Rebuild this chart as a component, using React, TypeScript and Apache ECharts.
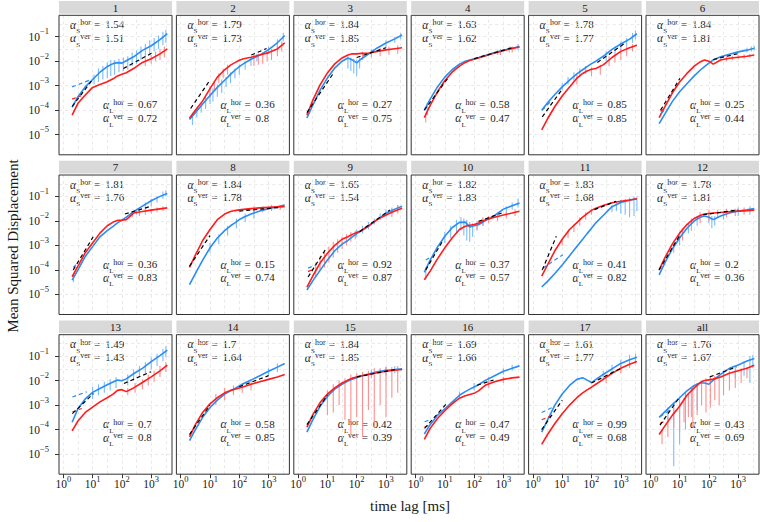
import { useEffect, useRef } from 'react';
import * as echarts from 'echarts';

const FONT = '"Liberation Serif", "Times New Roman", serif';

const PANEL_NAMES = ['1', '2', '3', '4', '5', '6', '7', '8', '9', '10', '11', '12', '13', '14', '15', '16', '17', 'all'];

// time lags (ms) shared by all smoothed curves
const LAG_MS = [2, 3.16, 5.62, 10, 17.8, 31.6, 50.1, 70.8, 100, 141, 251, 501, 1000, 1995, 3548];

// log10 of MSD, blue (light-blue noisy + blue mean) curve per panel
const BLUE_LOG10 = [
  [-3.88, -3.45, -3.05, -2.75, -2.45, -2.22, -2.1, -2.06, -2.08, -1.98, -1.82, -1.56, -1.37, -1.12, -0.88],
  [-4.38, -4.1, -3.75, -3.4, -3.07, -2.78, -2.54, -2.37, -2.22, -2.1, -1.92, -1.75, -1.53, -1.25, -0.95],
  [-4.32, -3.8, -3.18, -2.69, -2.28, -2.0, -1.87, -1.95, -2.07, -1.91, -1.71, -1.46, -1.26, -1.09, -0.93],
  [-4.0, -3.55, -3.05, -2.65, -2.35, -2.12, -2.0, -1.95, -1.9, -1.85, -1.76, -1.65, -1.55, -1.47, -1.4],
  [-4.0, -3.7, -3.36, -3.05, -2.77, -2.52, -2.35, -2.22, -2.1, -2.0, -1.8, -1.52, -1.3, -1.1, -0.88],
  [-4.55, -4.15, -3.65, -3.25, -2.92, -2.6, -2.37, -2.22, -2.08, -1.95, -1.82, -1.72, -1.62, -1.55, -1.47],
  [-4.42, -4.0, -3.45, -3.05, -2.65, -2.4, -2.22, -2.08, -1.98, -1.85, -1.62, -1.4, -1.18, -1.0, -0.88],
  [-4.6, -4.15, -3.6, -3.1, -2.7, -2.4, -2.2, -2.08, -1.95, -1.85, -1.72, -1.6, -1.5, -1.42, -1.35],
  [-4.82, -4.45, -4.02, -3.6, -3.22, -2.95, -2.8, -2.65, -2.52, -2.42, -2.22, -1.95, -1.69, -1.52, -1.4],
  [-4.1, -3.6, -3.07, -2.63, -2.28, -2.06, -2.05, -2.25, -2.2, -2.16, -1.98, -1.78, -1.52, -1.38, -1.27],
  [-4.7, -4.47, -4.15, -3.8, -3.42, -3.05, -2.75, -2.52, -2.3, -2.08, -1.78, -1.42, -1.25, -1.16, -1.1],
  [-4.2, -3.7, -3.15, -2.7, -2.3, -2.0, -1.85, -1.8, -1.85, -1.95, -1.8, -1.68, -1.6, -1.55, -1.5],
  [-3.7, -3.15, -2.75, -2.48, -2.32, -2.17, -2.06, -1.98, -2.01, -1.93, -1.72, -1.5, -1.23, -0.98, -0.76],
  [-4.45, -4.0, -3.5, -3.1, -2.8, -2.55, -2.42, -2.32, -2.22, -2.12, -1.98, -1.8, -1.62, -1.45, -1.3],
  [-4.1, -3.6, -3.05, -2.65, -2.35, -2.15, -2.02, -1.95, -1.88, -1.82, -1.73, -1.64, -1.58, -1.55, -1.52],
  [-4.18, -3.8, -3.42, -3.15, -2.88, -2.6, -2.45, -2.35, -2.26, -2.17, -1.98, -1.8, -1.62, -1.5, -1.4],
  [-4.1, -3.6, -3.0, -2.55, -2.2, -1.95, -1.88, -1.98, -2.08, -1.95, -1.75, -1.52, -1.3, -1.15, -1.05],
  [-3.5, -3.27, -2.98, -2.7, -2.42, -2.2, -2.1, -2.1, -2.15, -1.98, -1.75, -1.5, -1.36, -1.2, -1.1],
];

// log10 of MSD, red curve per panel
const RED_LOG10 = [
  [-4.2, -3.72, -3.38, -3.07, -2.95, -2.84, -2.72, -2.6, -2.53, -2.47, -2.3, -2.05, -1.9, -1.7, -1.5],
  [-4.33, -4.0, -3.62, -3.12, -2.65, -2.35, -2.16, -2.06, -1.96, -1.9, -1.84, -1.75, -1.65, -1.5, -1.25],
  [-4.2, -3.6, -2.97, -2.48, -2.11, -1.87, -1.75, -1.7, -1.7, -1.68, -1.68, -1.6, -1.54, -1.49, -1.45],
  [-4.3, -3.8, -3.25, -2.8, -2.45, -2.2, -2.05, -1.97, -1.92, -1.87, -1.78, -1.67, -1.57, -1.48, -1.42],
  [-4.8, -4.35, -3.85, -3.42, -3.05, -2.7, -2.5, -2.4, -2.33, -2.3, -2.15, -1.85, -1.6, -1.45, -1.35],
  [-4.3, -3.85, -3.3, -2.85, -2.5, -2.2, -2.03, -1.95, -2.0, -2.12, -1.95, -1.88, -1.84, -1.8, -1.75],
  [-4.28, -3.85, -3.3, -2.9, -2.5, -2.2, -2.05, -1.98, -1.97, -1.95, -1.68, -1.62, -1.56, -1.51, -1.47],
  [-3.9, -3.4, -2.8, -2.35, -1.95, -1.72, -1.62, -1.58, -1.55, -1.53, -1.5, -1.47, -1.45, -1.43, -1.42],
  [-4.7, -4.25, -3.72, -3.32, -3.0, -2.75, -2.65, -2.55, -2.47, -2.4, -2.2, -1.95, -1.76, -1.6, -1.48],
  [-4.4, -4.05, -3.55, -3.1, -2.7, -2.35, -2.22, -2.18, -2.15, -2.1, -1.95, -1.85, -1.76, -1.68, -1.61],
  [-4.25, -3.8, -3.22, -2.75, -2.35, -2.07, -1.85, -1.7, -1.57, -1.48, -1.37, -1.26, -1.2, -1.15, -1.1],
  [-4.0, -3.5, -2.95, -2.5, -2.15, -1.9, -1.78, -1.72, -1.7, -1.68, -1.66, -1.63, -1.6, -1.58, -1.56],
  [-4.05, -3.65, -3.3, -3.08, -2.87, -2.7, -2.55, -2.4, -2.37, -2.45, -2.3, -2.08, -1.85, -1.6, -1.37],
  [-4.3, -3.8, -3.3, -2.95, -2.7, -2.5, -2.4, -2.35, -2.3, -2.25, -2.15, -2.05, -1.95, -1.85, -1.75],
  [-3.9, -3.4, -2.9, -2.55, -2.3, -2.1, -1.98, -1.9, -1.85, -1.8, -1.75, -1.68, -1.62, -1.58, -1.55],
  [-4.4, -3.95, -3.55, -3.23, -2.95, -2.72, -2.62, -2.57, -2.52, -2.42, -2.18, -2.05, -1.95, -1.89, -1.86],
  [-4.6, -4.2, -3.75, -3.35, -3.0, -2.7, -2.5, -2.38, -2.27, -2.15, -1.95, -1.7, -1.5, -1.33, -1.22],
  [-4.2, -3.85, -3.42, -3.05, -2.6, -2.3, -2.08, -2.0, -1.97, -1.94, -1.85, -1.7, -1.6, -1.5, -1.37],
];

// noisy raw traces: [log10 lag, log10 low, log10 high]
const BLUE_NOISE: number[][][] = [
  [[1.05, -2.95, -2.55], [1.2, -2.85, -2.3], [1.35, -2.75, -2.2], [1.5, -2.7, -2.05], [1.62, -2.6, -1.95], [1.75, -2.55, -1.95], [1.9, -2.45, -1.9], [2.05, -2.4, -1.85], [2.2, -2.35, -1.8], [2.35, -2.2, -1.65], [2.5, -2.1, -1.55], [2.65, -1.95, -1.4], [2.8, -1.85, -1.3], [2.95, -1.75, -1.15], [3.1, -1.6, -1.05], [3.25, -1.5, -0.95], [3.4, -1.35, -0.8], [3.5, -1.25, -0.72]],
  [[0.4, -4.6, -4.1], [0.55, -4.3, -3.9], [0.7, -4.1, -3.7], [0.85, -3.95, -3.45], [1.0, -3.75, -3.3], [1.1, -3.65, -3.1], [1.25, -3.45, -2.95], [1.4, -3.3, -2.75], [1.55, -3.05, -2.65], [1.7, -2.9, -2.45], [1.85, -2.7, -2.3], [2.0, -2.55, -2.15], [2.2, -2.35, -2.0], [2.4, -2.2, -1.85], [2.6, -2.0, -1.7], [3.0, -1.7, -1.4], [3.3, -1.45, -1.1], [3.5, -1.2, -0.85]],
  [[1.7, -2.3, -1.8], [1.8, -2.4, -1.85], [1.9, -2.5, -1.9], [2.0, -2.6, -1.95], [2.1, -2.3, -1.85], [2.5, -1.75, -1.5], [3.0, -1.45, -1.15], [3.3, -1.25, -1.0], [3.5, -1.1, -0.85]],
  [[0.4, -4.2, -3.7], [2.8, -1.75, -1.55], [3.2, -1.65, -1.4], [3.5, -1.55, -1.3]],
  [[1.0, -3.2, -2.9], [1.2, -2.95, -2.65], [1.4, -2.8, -2.45], [1.6, -2.65, -2.3], [1.8, -2.5, -2.2], [2.5, -2.0, -1.6], [2.8, -1.7, -1.4], [3.0, -1.55, -1.2], [3.2, -1.4, -1.05], [3.4, -1.25, -0.85], [3.5, -1.1, -0.75]],
  [[3.3, -1.65, -1.45], [3.45, -1.6, -1.4], [3.55, -1.55, -1.38]],
  [[0.35, -4.5, -4.2], [2.5, -1.75, -1.5], [2.8, -1.55, -1.25], [3.0, -1.4, -1.1], [3.2, -1.25, -1.0], [3.4, -1.1, -0.8], [3.5, -1.0, -0.75]],
  [[1.0, -3.3, -2.9], [1.3, -2.95, -2.55], [1.6, -2.6, -2.2], [1.9, -2.3, -1.9], [2.2, -2.05, -1.7], [2.5, -1.9, -1.55]],
  [[2.0, -2.65, -2.35], [2.2, -2.5, -2.2], [2.4, -2.35, -2.05], [2.6, -2.15, -1.9], [2.8, -1.95, -1.7], [3.0, -1.85, -1.55], [3.2, -1.7, -1.45], [3.4, -1.55, -1.35]],
  [[0.35, -4.4, -3.9], [1.0, -2.9, -2.45], [1.2, -2.7, -2.2], [1.4, -2.5, -1.95], [1.55, -2.4, -1.85], [1.65, -2.6, -1.9], [1.75, -2.8, -1.95], [1.85, -2.85, -2.05], [1.95, -2.65, -2.1], [2.1, -2.4, -2.05], [2.3, -2.2, -1.9], [3.1, -1.7, -1.4], [3.3, -1.55, -1.25], [3.5, -1.45, -1.1]],
  [[2.7, -1.65, -1.35], [2.85, -1.6, -1.2], [3.0, -1.7, -1.15], [3.15, -1.75, -1.1], [3.3, -1.85, -1.05], [3.45, -1.8, -1.0], [3.55, -1.6, -1.0]],
  [[1.0, -3.0, -2.5], [1.3, -2.5, -2.1], [1.6, -2.2, -1.8], [2.0, -2.1, -1.7], [2.1, -2.3, -1.8], [2.2, -2.2, -1.8], [2.5, -1.95, -1.6], [3.0, -1.8, -1.45], [3.4, -1.75, -1.4]],
  [[1.0, -2.75, -2.25], [1.2, -2.6, -2.15], [1.4, -2.5, -2.05], [1.6, -2.4, -1.95], [1.8, -2.3, -1.85], [2.2, -2.2, -1.75], [2.4, -2.0, -1.55], [2.6, -1.85, -1.4], [2.8, -1.7, -1.25], [3.0, -1.55, -1.05], [3.2, -1.4, -0.9], [3.4, -1.2, -0.7], [3.5, -1.05, -0.6]],
  [[3.0, -1.8, -1.5], [3.3, -1.65, -1.3]],
  [[2.5, -1.9, -1.55], [3.0, -1.8, -1.45], [3.3, -1.7, -1.4]],
  [[1.5, -2.75, -2.45], [2.0, -2.4, -2.1], [2.5, -2.1, -1.85], [3.0, -1.75, -1.5], [3.3, -1.6, -1.35]],
  [[2.4, -1.95, -1.6], [2.7, -1.75, -1.35], [3.0, -1.55, -1.15], [3.3, -1.35, -0.95], [3.5, -1.3, -0.9]],
  [[0.6, -3.6, -3.1], [0.8, -5.5, -2.9], [1.0, -4.6, -2.7], [1.2, -4.0, -2.5], [1.4, -3.5, -2.3], [1.6, -3.2, -2.1], [2.5, -2.0, -1.6], [2.9, -1.9, -1.4], [3.2, -1.8, -1.2], [3.4, -2.1, -1.0], [3.5, -1.5, -0.95]],
];

const RED_NOISE: number[][][] = [
  [[2.8, -2.2, -1.85], [3.0, -2.1, -1.75], [3.15, -2.0, -1.6], [3.3, -1.95, -1.5], [3.45, -1.85, -1.4]],
  [[1.0, -3.5, -3.0], [1.15, -3.2, -2.8], [1.3, -2.9, -2.5], [1.45, -2.7, -2.3], [1.6, -2.55, -2.15], [2.5, -2.2, -1.75], [2.65, -2.15, -1.7], [2.8, -2.1, -1.65], [2.95, -2.0, -1.6], [3.1, -1.95, -1.5], [3.3, -1.8, -1.4], [3.45, -1.6, -1.2]],
  [[2.2, -1.95, -1.6], [2.5, -1.85, -1.55], [2.8, -1.8, -1.45], [3.1, -1.75, -1.4], [3.4, -1.7, -1.35]],
  [[0.35, -4.5, -4.1], [2.9, -1.75, -1.5], [3.3, -1.65, -1.4]],
  [[1.5, -2.95, -2.55], [2.0, -2.6, -2.25], [2.3, -2.55, -2.15], [2.6, -2.2, -1.8], [2.8, -2.05, -1.7], [3.0, -1.95, -1.5], [3.2, -1.8, -1.4], [3.4, -1.6, -1.3]],
  [[2.6, -2.0, -1.8], [2.8, -1.95, -1.78], [3.0, -1.92, -1.75], [3.2, -1.9, -1.72], [3.4, -1.85, -1.7]],
  [[2.35, -1.85, -1.6], [2.6, -1.8, -1.5], [2.8, -1.75, -1.55], [3.0, -1.7, -1.5], [3.2, -1.65, -1.45], [3.4, -1.6, -1.4]],
  [[2.5, -1.7, -1.4], [2.8, -1.65, -1.4], [3.1, -1.6, -1.35], [3.4, -1.55, -1.35]],
  [[0.6, -4.3, -3.7], [0.75, -4.0, -3.45], [0.9, -3.9, -3.25], [1.05, -3.7, -3.05], [1.2, -3.5, -2.85], [1.35, -3.3, -2.75], [1.5, -3.15, -2.65], [1.65, -3.0, -2.55], [1.8, -2.85, -2.45], [1.95, -2.75, -2.4], [3.2, -1.85, -1.5], [3.4, -1.7, -1.35]],
  [[2.1, -2.35, -2.0], [2.3, -2.2, -1.85], [2.5, -2.1, -1.8], [2.8, -2.0, -1.7], [3.1, -1.9, -1.65], [3.4, -1.8, -1.55]],
  [[1.0, -3.0, -2.75], [1.2, -2.7, -2.4], [1.4, -2.45, -2.15], [1.6, -2.2, -1.85], [1.8, -1.95, -1.65], [2.0, -1.75, -1.5]],
  [[0.8, -3.3, -2.8], [1.1, -2.8, -2.3], [1.4, -2.4, -1.9], [1.7, -2.1, -1.65], [2.0, -2.0, -1.55], [2.3, -1.9, -1.55], [2.6, -1.85, -1.5], [2.9, -1.8, -1.5], [3.2, -1.75, -1.45]],
  [[2.2, -2.6, -2.3], [2.45, -2.5, -2.1], [2.7, -2.35, -1.95], [2.9, -2.2, -1.75], [3.1, -2.05, -1.6], [3.3, -1.85, -1.4], [3.5, -1.65, -1.25]],
  [[1.2, -3.0, -2.55], [1.5, -2.8, -2.3], [1.8, -2.6, -2.2], [2.1, -2.5, -2.1], [2.4, -2.4, -2.0]],
  [[1.0, -3.4, -2.4], [1.2, -3.3, -2.15], [1.4, -3.0, -2.0], [1.6, -3.6, -1.9], [1.8, -4.2, -1.75], [2.0, -3.5, -1.7], [2.2, -4.3, -1.65], [2.4, -3.2, -1.6], [2.6, -3.9, -1.5], [2.8, -3.0, -1.5], [3.0, -3.5, -1.45], [3.2, -2.7, -1.45], [3.4, -2.5, -1.4]],
  [[2.5, -2.3, -2.0], [3.0, -2.1, -1.85]],
  [[2.5, -2.1, -1.75], [3.0, -1.7, -1.35], [3.3, -1.5, -1.2]],
  [[0.4, -4.6, -4.0], [0.6, -4.3, -3.5], [0.8, -3.9, -3.1], [1.0, -4.1, -2.9], [1.15, -3.7, -2.7], [1.3, -3.5, -2.5], [1.45, -3.9, -2.3], [1.6, -3.4, -2.1], [1.75, -3.0, -2.0], [1.9, -3.3, -1.9], [2.05, -3.1, -1.85], [2.2, -2.8, -1.8], [2.35, -3.0, -1.75], [2.5, -2.6, -1.7], [2.7, -2.4, -1.6], [2.9, -2.3, -1.55], [3.1, -2.1, -1.5], [3.3, -1.9, -1.45]],
];

// fitted power laws: [log10 lag0, log10 msd0, log10 lag1, log10 msd1]
const BLACK_SHORT_FIT = [
  [0.3, -3.85, 1.0, -2.75], [0.34, -3.93, 1.0, -2.77], [0.3, -4.1, 1.2, -2.5], [0.3, -4.0, 1.1, -2.7],
  [0.32, -4.27, 1.02, -3.11], [0.35, -4.0, 1.01, -2.7], [0.34, -4.0, 1.02, -2.65], [0.3, -3.85, 1.0, -2.6],
  [0.34, -4.29, 0.97, -3.1], [0.35, -4.0, 0.95, -2.77], [0.32, -4.0, 0.8, -2.63], [0.3, -4.0, 1.0, -2.6],
  [0.31, -3.35, 1.03, -2.53], [0.3, -4.2, 1.0, -3.0], [0.3, -3.8, 1.0, -2.6], [0.31, -3.95, 1.07, -2.93],
  [0.3, -4.0, 1.0, -2.8], [0.33, -3.82, 1.01, -2.66],
];
const BLACK_LONG_FIT = [
  [2.05, -2.3, 3.05, -1.65], [2.41, -1.75, 2.93, -1.48], [2.0, -1.85, 3.0, -1.45], [2.0, -1.9, 3.3, -1.45],
  [2.2, -2.05, 3.1, -1.3], [2.15, -1.93, 3.0, -1.69], [2.1, -1.72, 2.95, -1.42], [2.0, -1.6, 3.4, -1.45],
  [2.1, -2.44, 3.13, -1.56], [2.15, -2.02, 2.94, -1.68], [2.1, -1.54, 2.84, -1.2], [1.8, -1.75, 3.0, -1.55],
  [2.07, -2.12, 2.99, -1.64], [2.0, -2.25, 3.0, -1.8], [2.0, -1.85, 3.3, -1.55], [2.1, -2.19, 2.66, -1.98],
  [2.0, -2.1, 3.0, -1.5], [2.03, -1.85, 2.94, -1.44],
];
const BLUE_SHORT_FIT: (number[] | null)[] = [
  [0.3, -3.05, 0.95, -2.75], null, null, null, [0.32, -4.0, 0.6, -3.65], [0.35, -4.15, 0.55, -3.95],
  [0.34, -3.9, 0.5, -3.7], null, [0.34, -3.93, 0.6, -3.8], [0.35, -3.6, 0.55, -3.45], [0.34, -3.93, 1.02, -3.38], null,
  [0.31, -2.67, 0.8, -2.46], null, null, [0.31, -3.68, 0.5, -3.6], [0.3, -3.3, 0.75, -3.05], [0.33, -3.48, 0.67, -3.2],
];
const RED_SHORT_FIT: (number[] | null)[] = [
  [0.3, -3.55, 0.6, -3.42], null, null, null, null, [0.35, -4.05, 0.5, -3.9],
  null, null, [0.34, -4.07, 0.55, -3.95], null, null, null,
  [0.31, -3.28, 0.63, -3.14], null, null, [0.31, -3.9, 0.5, -3.8], [0.3, -3.6, 0.6, -3.45], [0.33, -3.75, 0.5, -3.65],
];

const ALPHA_S_HOR = ['1.54', '1.79', '1.84', '1.63', '1.78', '1.84', '1.81', '1.84', '1.65', '1.82', '1.83', '1.78', '1.49', '1.7', '1.84', '1.69', '1.61', '1.76'];
const ALPHA_S_VER = ['1.51', '1.73', '1.85', '1.62', '1.77', '1.81', '1.76', '1.78', '1.54', '1.83', '1.68', '1.81', '1.43', '1.64', '1.85', '1.66', '1.77', '1.67'];
const ALPHA_L_HOR = ['0.67', '0.36', '0.27', '0.58', '0.85', '0.25', '0.36', '0.15', '0.92', '0.37', '0.41', '0.2', '0.7', '0.58', '0.42', '0.47', '0.99', '0.43'];
const ALPHA_L_VER = ['0.72', '0.8', '0.75', '0.47', '0.85', '0.44', '0.83', '0.74', '0.87', '0.57', '0.82', '0.36', '0.8', '0.85', '0.39', '0.49', '0.68', '0.69'];

const X_MIN = 0.713;
const X_MAX = 5130;
const Y_MIN = 1.51e-6;
const Y_MAX = 0.746;
const X_MINOR = [3.162, 31.62, 316.2, 3162];
const Y_MINOR = [3.162e-6, 3.162e-5, 3.162e-4, 3.162e-3, 3.162e-2, 0.3162];

// layout
const COL_LEFT = [59, 176.4, 293.8, 411.2, 528.6, 646];
const BOX_TOP = [15.3, 175, 334.7];
const BOX_W = 113;
const BOX_H = 139.5;

const BLUE = '#2b8cf2';
const BLUE_LIGHT = '#7cbcff';
const RED = '#ff1c1c';
const RED_LIGHT = '#ff8f8f';
const TEXT = '#1a1a1a';
const GRID_LINE = { color: '#e3e3e3', width: 0.8, type: [3, 3] as number[] };

const p10 = (v: number) => Math.pow(10, v);

const powLabel = (v: number) => {
  const l = Math.log10(v);
  const e = Math.round(l);
  if (Math.abs(l - e) > 1e-6) return '';
  return '{b|10}{s|' + (e < 0 ? '\u2212' + -e : String(e)) + '}';
};
const RICH = {
  b: { fontFamily: FONT, fontSize: 11.5, color: TEXT, lineHeight: 20, verticalAlign: 'middle' },
  s: { fontFamily: FONT, fontSize: 8.5, color: TEXT, lineHeight: 8, verticalAlign: 'top' },
};

const spikeRenderer = (color: string) => (_p: any, api: any) => {
  const a = api.coord([api.value(0), api.value(1)]);
  const b = api.coord([api.value(0), api.value(2)]);
  return { type: 'line', shape: { x1: a[0], y1: a[1], x2: b[0], y2: b[1] }, style: { stroke: color, lineWidth: 1.1 } };
};

// α with subscript and superscript (staggered so the script boxes never collide)
const alphaLine = (x: number, y: number, sub: string, sup: string, value: string) => ({
  type: 'group',
  x,
  y,
  silent: true,
  children: [
    { type: 'text', x: 0, y: 0.5, style: { text: '\u03b1', font: 'italic 11.5px ' + FONT, fill: TEXT, verticalAlign: 'middle' } },
    { type: 'text', x: 6.2, y: 3.5, style: { text: sub, font: '7px ' + FONT, fill: TEXT, verticalAlign: 'top' } },
    { type: 'text', x: 10.3, y: 2.5, style: { text: sup, font: '8px ' + FONT, fill: TEXT, verticalAlign: 'bottom' } },
    { type: 'text', x: 24, y: 0, style: { text: '=', font: '11px ' + FONT, fill: TEXT, verticalAlign: 'middle' } },
    { type: 'text', x: 35, y: 0, style: { text: value, font: '11px ' + FONT, fill: TEXT, verticalAlign: 'middle' } },
  ],
});

const fitLine = (i: number, seg: number[] | null, color: string, name: string) =>
  seg
    ? [{
        type: 'line', name, xAxisIndex: i, yAxisIndex: i, silent: true, symbol: 'none', z: 6,
        data: [[p10(seg[0]), p10(seg[1])], [p10(seg[2]), p10(seg[3])]],
        lineStyle: { color, width: 1.2, type: [4, 3] },
      }]
    : [];

function buildOption() {
  const grid: any[] = [];
  const xAxis: any[] = [];
  const yAxis: any[] = [];
  const series: any[] = [];
  const graphic: any[] = [];

  PANEL_NAMES.forEach((name, i) => {
    const col = i % 6;
    const row = Math.floor(i / 6);
    const left = COL_LEFT[col];
    const top = BOX_TOP[row];
    const isBottom = row === 2;
    const isLeft = col === 0;
    grid.push({ left, top, width: BOX_W, height: BOX_H, show: false });
    xAxis.push({
      type: 'log', logBase: 10, gridIndex: i, min: X_MIN, max: X_MAX,
      axisLine: { show: false },
      axisTick: { show: isBottom, length: 4, lineStyle: { color: '#333', width: 1 } },
      axisLabel: { show: isBottom, formatter: powLabel, rich: RICH, margin: 0, showMinLabel: false, showMaxLabel: false },
      splitLine: { show: true, showMinLine: false, showMaxLine: false, lineStyle: GRID_LINE },
    });
    yAxis.push({
      type: 'log', logBase: 10, gridIndex: i, min: Y_MIN, max: Y_MAX,
      axisLine: { show: false },
      axisTick: { show: isLeft, length: 4, lineStyle: { color: '#333', width: 1 } },
      axisLabel: { show: isLeft, formatter: powLabel, rich: RICH, margin: 10, showMinLabel: false, showMaxLabel: false },
      splitLine: { show: true, showMinLine: false, showMaxLine: false, lineStyle: GRID_LINE },
    });

    series.push({
      type: 'custom', name: 'blue raw ' + name, xAxisIndex: i, yAxisIndex: i, silent: true, z: 2, clip: true,
      encode: { x: 0, y: [1, 2] },
      data: BLUE_NOISE[i].map((d) => [p10(d[0]), p10(d[1]), p10(d[2])]),
      renderItem: spikeRenderer(BLUE_LIGHT),
    });
    series.push({
      type: 'custom', name: 'red raw ' + name, xAxisIndex: i, yAxisIndex: i, silent: true, z: 2, clip: true,
      encode: { x: 0, y: [1, 2] },
      data: RED_NOISE[i].map((d) => [p10(d[0]), p10(d[1]), p10(d[2])]),
      renderItem: spikeRenderer(RED_LIGHT),
    });
    series.push({
      type: 'line', name: 'blue ' + name, xAxisIndex: i, yAxisIndex: i, silent: true, symbol: 'none', z: 4,
      data: LAG_MS.map((x, j) => [x, p10(BLUE_LOG10[i][j])]),
      lineStyle: { color: BLUE, width: 1.6 },
      markLine: {
        silent: true, symbol: 'none', z: 1, animation: false, label: { show: false },
        lineStyle: GRID_LINE, emphasis: { disabled: true },
        data: [...X_MINOR.map((v) => ({ xAxis: v })), ...Y_MINOR.map((v) => ({ yAxis: v }))],
      },
    });
    series.push({
      type: 'line', name: 'red ' + name, xAxisIndex: i, yAxisIndex: i, silent: true, symbol: 'none', z: 5,
      data: LAG_MS.map((x, j) => [x, p10(RED_LOG10[i][j])]),
      lineStyle: { color: RED, width: 1.6 },
    });
    series.push(...fitLine(i, BLUE_SHORT_FIT[i], BLUE, 'blue fit ' + name));
    series.push(...fitLine(i, RED_SHORT_FIT[i], RED, 'red fit ' + name));
    series.push(...fitLine(i, BLACK_SHORT_FIT[i], '#000', 'short fit ' + name));
    series.push(...fitLine(i, BLACK_LONG_FIT[i], '#000', 'long fit ' + name));

    // strip
    graphic.push({
      type: 'rect', silent: true, z: 50,
      shape: { x: left, y: top - 14.3, width: BOX_W, height: 12.8 },
      style: { fill: '#d9d9d9' },
    });
    graphic.push({
      type: 'text', silent: true, z: 51, x: left + BOX_W / 2, y: top - 7.6,
      style: { text: name, font: '11px ' + FONT, fill: TEXT, align: 'center', verticalAlign: 'middle' },
    });
    // panel border
    graphic.push({
      type: 'rect', silent: true, z: 60,
      shape: { x: left, y: top, width: BOX_W, height: BOX_H },
      style: { fill: 'none', stroke: '#333', lineWidth: 1 },
    });
    // annotations
    graphic.push(alphaLine(left + 11, top + 9, 'S', 'hor', ALPHA_S_HOR[i]));
    graphic.push(alphaLine(left + 11, top + 22.3, 'S', 'ver', ALPHA_S_VER[i]));
    graphic.push(alphaLine(left + 44, top + 89, 'L', 'hor', ALPHA_L_HOR[i]));
    graphic.push(alphaLine(left + 44, top + 102.3, 'L', 'ver', ALPHA_L_VER[i]));
  });

  graphic.push({
    type: 'text', silent: true, x: 13, y: 246, rotation: Math.PI / 2,
    style: { text: 'Mean Squared Displacement', font: '15px ' + FONT, fill: TEXT, align: 'center', verticalAlign: 'middle' },
  });
  graphic.push({
    type: 'text', silent: true, x: 410, y: 506,
    style: { text: 'time lag [ms]', font: '15px ' + FONT, fill: TEXT, align: 'center', verticalAlign: 'middle' },
  });

  return {
    animation: false,
    backgroundColor: '#ffffff',
    textStyle: { fontFamily: FONT },
    grid, xAxis, yAxis, series, graphic,
  };
}

export default function App() {
  const ref = useRef<HTMLDivElement>(null);
  useEffect(() => {
    document.body.style.margin = '0';
    if (!ref.current) return;
    const chart = echarts.init(ref.current, null, { renderer: 'svg' });
    chart.setOption(buildOption() as any);
    return () => chart.dispose();
  }, []);
  return <div ref={ref} style={{ width: 760, height: 522 }} />;
}
